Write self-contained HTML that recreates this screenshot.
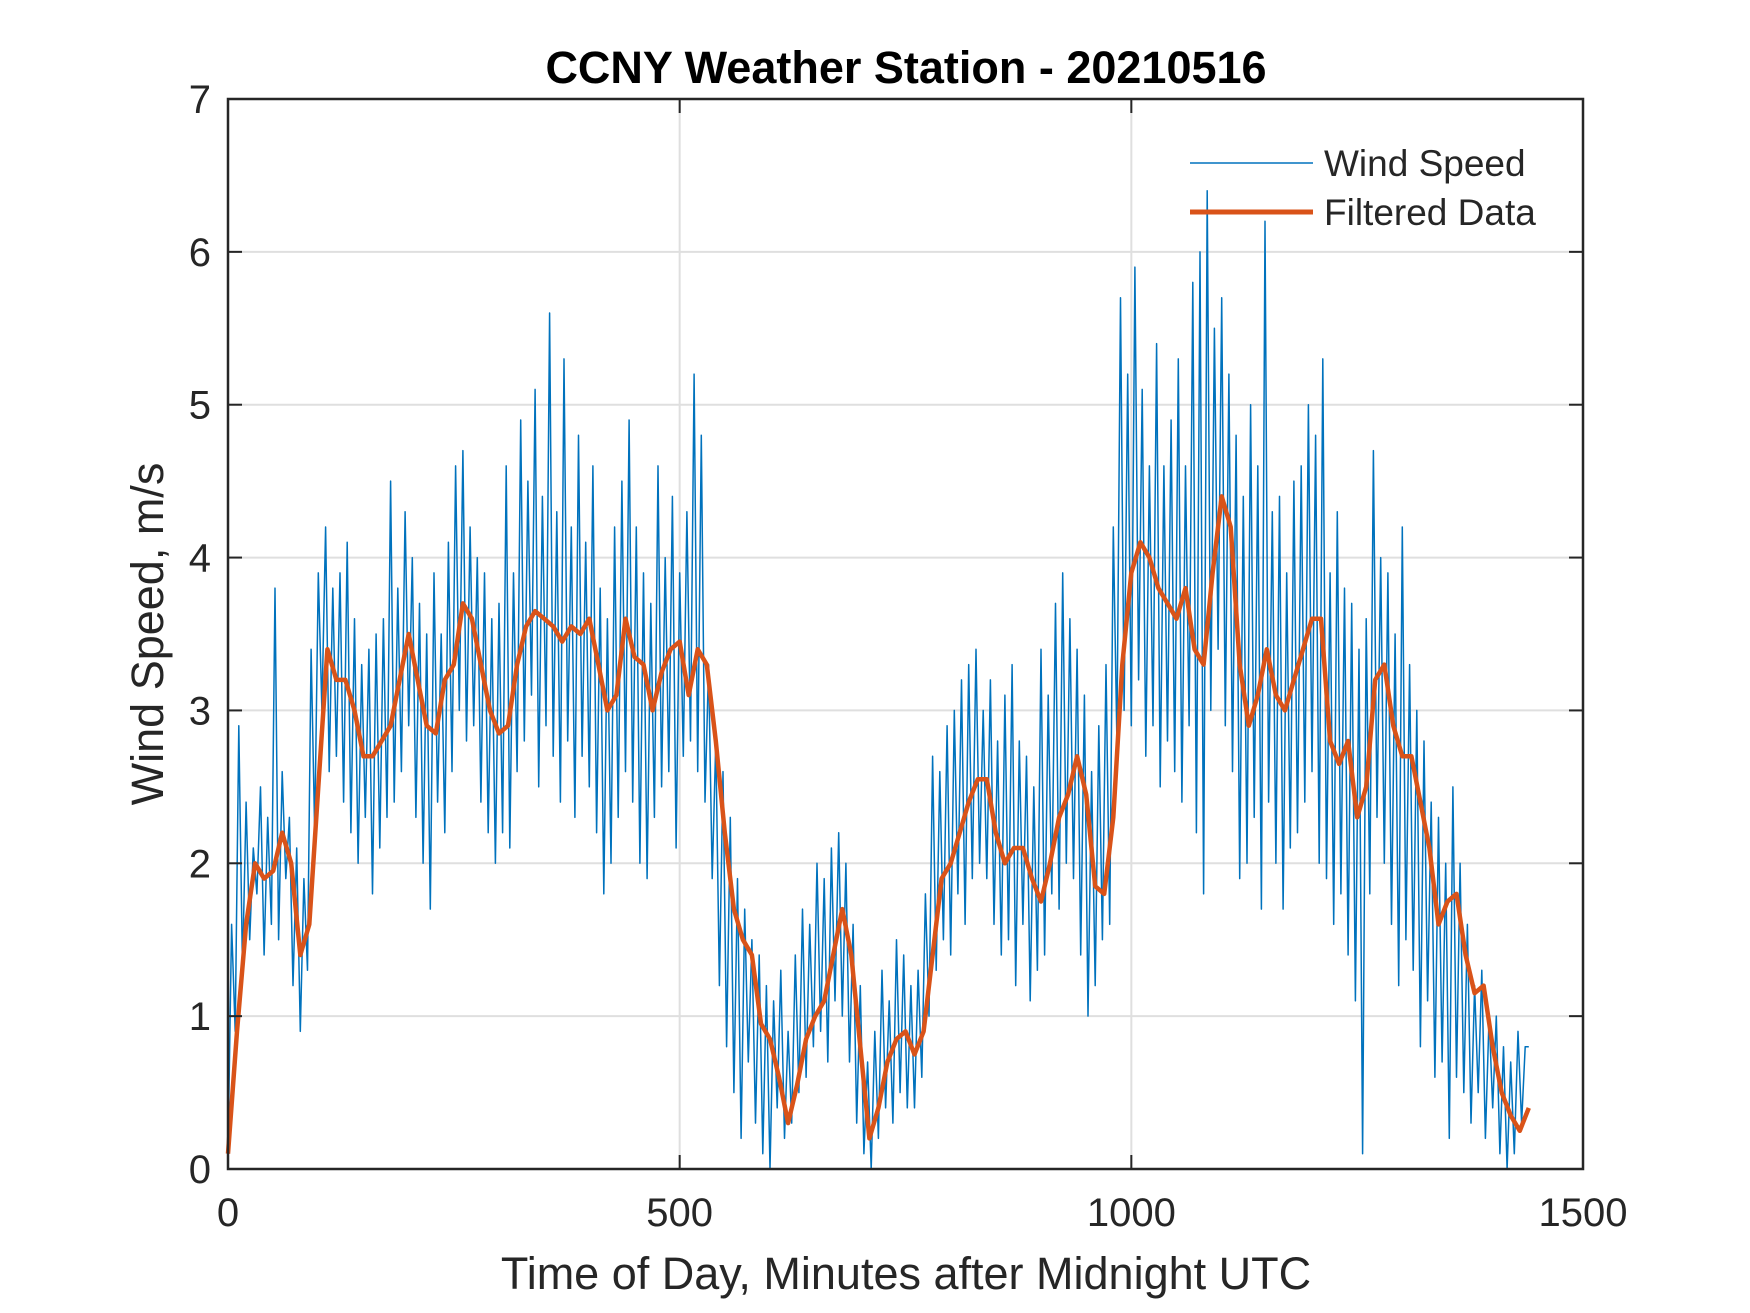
<!DOCTYPE html>
<html><head><meta charset="utf-8"><style>
body{margin:0;background:#fff}
svg{display:block}
text{font-family:"Liberation Sans",Arial,sans-serif;fill:#262626}
</style></head><body>
<svg id="chart" width="1750" height="1313" viewBox="0 0 1750 1313" xmlns="http://www.w3.org/2000/svg">
<rect width="1750" height="1313" fill="#fff"/>
<g id="grid"></g>
<g id="series"></g>
<g id="axes"></g>
<text x="906" y="83" text-anchor="middle" font-size="45" font-weight="bold" style="fill:#000">CCNY Weather Station - 20210516</text>
<text x="906" y="1289" text-anchor="middle" font-size="45">Time of Day, Minutes after Midnight UTC</text>
<text transform="translate(163,634) rotate(-90)" text-anchor="middle" font-size="45">Wind Speed, m/s</text>
<g>
<line x1="1190" y1="163" x2="1313" y2="163" stroke="#0072BD" stroke-width="1.6"/>
<text x="1324" y="176" font-size="37">Wind Speed</text>
<line x1="1190" y1="212" x2="1313" y2="212" stroke="#D95319" stroke-width="5"/>
<text x="1324" y="225" font-size="37">Filtered Data</text>
</g>
</svg>
<script>
const rawStep = 4;
const rawValues = [
0.1,1.6,0.9,2.9,1.3,2.4,1.5,2.1,1.8,2.5,
1.4,2.3,1.6,3.8,1.5,2.6,1.9,2.3,1.2,2.1,
0.9,1.9,1.3,3.4,2.2,3.9,3.0,4.2,2.6,3.8,
2.7,3.9,2.4,4.1,2.2,3.6,2.0,3.3,2.3,3.4,
1.8,3.5,2.1,3.6,2.3,4.5,2.4,3.8,2.6,4.3,
2.9,4.0,2.3,3.7,2.0,3.5,1.7,3.9,2.4,3.5,
2.2,4.1,2.6,4.6,3.0,4.7,2.8,4.2,2.9,4.0,
2.4,3.9,2.2,3.6,2.0,3.7,2.2,4.6,2.1,3.9,
2.6,4.9,2.8,4.5,3.1,5.1,2.5,4.4,2.9,5.6,
2.7,4.3,2.4,5.3,2.8,4.2,2.3,4.8,2.7,4.1,
2.5,4.6,2.2,3.8,1.8,3.6,2.0,4.2,2.3,4.5,
2.6,4.9,2.4,4.2,2.0,3.9,1.9,3.7,2.3,4.6,
2.5,4.0,2.6,4.4,2.1,3.9,2.7,4.3,2.8,5.2,
2.6,4.8,2.4,3.3,1.9,2.8,1.2,2.6,0.8,2.3,
0.5,1.9,0.2,1.7,0.7,1.5,0.3,1.4,0.1,1.2,
0.0,1.1,0.4,1.3,0.2,0.9,0.3,1.4,0.5,1.7,
0.6,1.6,0.8,2.0,0.9,1.9,0.7,2.1,1.1,2.2,
1.0,2.0,0.7,1.6,0.3,1.2,0.1,0.7,0.0,0.9,
0.2,1.3,0.4,1.1,0.3,1.5,0.5,1.4,0.4,1.2,
0.4,1.3,0.6,1.8,1.0,2.7,1.3,2.6,1.5,2.9,
1.4,3.0,1.8,3.2,1.6,3.3,1.9,3.4,2.0,3.0,
1.9,3.2,1.6,2.8,1.4,3.1,1.5,3.3,1.2,2.8,
1.6,2.7,1.1,2.5,1.3,3.4,1.4,3.1,1.8,3.7,
1.7,3.9,2.0,3.6,1.9,3.4,1.4,3.1,1.0,2.6,
1.2,2.9,1.5,3.3,1.6,4.2,2.8,5.7,3.0,5.2,
2.9,5.9,3.2,5.1,2.7,4.6,2.9,5.4,2.5,4.6,
2.8,4.9,2.6,5.3,2.4,4.6,2.9,5.8,2.2,6.0,
1.8,6.4,3.0,5.5,3.4,5.7,2.9,5.2,2.6,4.8,
1.9,4.4,2.0,5.0,2.3,4.6,1.7,6.2,2.4,4.3,
2.0,4.4,1.7,3.9,2.1,4.5,2.2,4.6,2.4,5.0,
2.6,4.8,2.0,5.3,1.9,3.9,1.6,4.3,1.8,3.8,
1.4,3.7,1.1,3.4,0.1,3.6,1.8,4.7,2.3,4.0,
2.0,3.9,1.6,3.5,1.2,4.2,1.5,3.3,1.3,3.0,
0.8,2.8,1.1,2.4,0.6,2.3,0.7,2.0,0.2,2.5,
0.6,2.0,0.5,1.6,0.3,1.2,0.5,1.3,0.2,1.0,
0.4,1.0,0.1,0.8,0.0,0.7,0.1,0.9,0.3,0.8,
0.8];
const filtStep = 10;
const filteredValues = [
0.1,0.9,1.6,2.0,1.9,1.95,2.2,2.0,1.4,1.6,
2.5,3.4,3.2,3.2,3.0,2.7,2.7,2.8,2.9,3.2,
3.5,3.2,2.9,2.85,3.2,3.3,3.7,3.6,3.3,3.0,
2.85,2.9,3.3,3.55,3.65,3.6,3.55,3.45,3.55,3.5,
3.6,3.3,3.0,3.1,3.6,3.35,3.3,3.0,3.25,3.4,
3.45,3.1,3.4,3.3,2.8,2.2,1.7,1.5,1.4,0.95,
0.85,0.6,0.3,0.55,0.85,1.0,1.1,1.4,1.7,1.4,
0.8,0.2,0.4,0.7,0.85,0.9,0.75,0.9,1.4,1.9,
2.0,2.2,2.4,2.55,2.55,2.2,2.0,2.1,2.1,1.9,
1.75,2.0,2.3,2.45,2.7,2.45,1.85,1.8,2.3,3.3,
3.9,4.1,4.0,3.8,3.7,3.6,3.8,3.4,3.3,3.9,
4.4,4.2,3.3,2.9,3.1,3.4,3.1,3.0,3.2,3.4,
3.6,3.6,2.8,2.65,2.8,2.3,2.5,3.2,3.3,2.9,
2.7,2.7,2.4,2.1,1.6,1.75,1.8,1.4,1.15,1.2,
0.8,0.5,0.35,0.25,0.4];
const xTicks = [0,500,1000,1500];
const yTicks = [0,1,2,3,4,5,6,7];

const L=228,R=1583,T=99,B=1169;
const xS=v=>L+(v-0)/1500*(R-L);
const yS=v=>B-(v-0)/7*(B-T);
const NS="http://www.w3.org/2000/svg";
function mk(tag,attrs,parent){const e=document.createElementNS(NS,tag);for(const k in attrs)e.setAttribute(k,attrs[k]);parent.appendChild(e);return e;}
const grid=document.getElementById('grid'),axes=document.getElementById('axes'),series=document.getElementById('series');

xTicks.forEach(v=>{
  if(v>0&&v<1500){const g=mk('line',{x1:xS(v),x2:xS(v),y1:T,y2:B,stroke:'#dfdfdf','stroke-width':2},grid);
  
  }
  const t=mk('text',{x:xS(v),y:B+57,'text-anchor':'middle','font-size':40},axes);
  t.textContent=v;
  
  
  mk('line',{x1:xS(v),x2:xS(v),y1:B,y2:B-14,stroke:'#262626','stroke-width':2},axes);
  mk('line',{x1:xS(v),x2:xS(v),y1:T,y2:T+14,stroke:'#262626','stroke-width':2},axes);
});
yTicks.forEach(v=>{
  if(v>0&&v<7){const g=mk('line',{x1:L,x2:R,y1:yS(v),y2:yS(v),stroke:'#dfdfdf','stroke-width':2},grid);
  
  }
  const t=mk('text',{x:L-17,y:yS(v)+14,'text-anchor':'end','font-size':40},axes);
  t.textContent=v;
  
  
  mk('line',{x1:L,x2:L+14,y1:yS(v),y2:yS(v),stroke:'#262626','stroke-width':2},axes);
  mk('line',{x1:R,x2:R-14,y1:yS(v),y2:yS(v),stroke:'#262626','stroke-width':2},axes);
});
const frame=mk('rect',{x:L,y:T,width:R-L,height:B-T,fill:'none',stroke:'#262626','stroke-width':2.5},axes);



const rawPts=rawValues.map((v,i)=>xS(i*rawStep).toFixed(1)+','+yS(v).toFixed(1)).join(' ');
const raw=mk('polyline',{points:rawPts,fill:'none',stroke:'#0072BD','stroke-width':1.5,'stroke-linejoin':'round'},series);


const fPts=filteredValues.map((v,i)=>xS(i*filtStep).toFixed(1)+','+yS(v).toFixed(1)).join(' ');
const f=mk('polyline',{points:fPts,fill:'none',stroke:'#D95319','stroke-width':4.5,'stroke-linejoin':'round'},series);


</script>
</body></html>
